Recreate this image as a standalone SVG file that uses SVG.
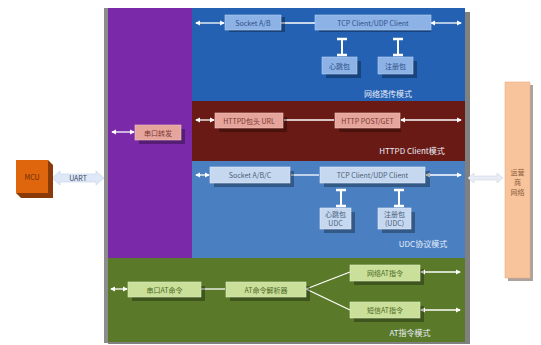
<svg xmlns="http://www.w3.org/2000/svg" width="541" height="345" viewBox="0 0 541 345">
<defs>
<marker id="ah" viewBox="0 0 6 6" refX="5" refY="3" markerWidth="4" markerHeight="4" orient="auto-start-reverse"><path d="M0,0 L6,3 L0,6 z" fill="#ffffff"/></marker>
<marker id="bar" viewBox="0 0 6 6" refX="3" refY="3" markerWidth="5" markerHeight="5" orient="auto"><path d="M3,0 L3,6" stroke="#ffffff" stroke-width="1.5"/></marker>
<filter id="sh" x="-20%" y="-20%" width="150%" height="180%"><feOffset dx="4" dy="4"/><feGaussianBlur stdDeviation="1"/><feComponentTransfer><feFuncA type="linear" slope="0.45"/></feComponentTransfer></filter>
</defs>
<style>
text{font-family:"Noto Sans CJK SC","Liberation Sans",sans-serif;font-size:7px;text-anchor:middle;dominant-baseline:central}
.bb{fill:#8db3e6;stroke:#b6d0f2;stroke-width:0.6}
.rb{fill:#e6a59c;stroke:#f2c6c0;stroke-width:0.6}
.sb{fill:#c6d8ef;stroke:#e0eaf6;stroke-width:0.6}
.gb{fill:#c9df9a;stroke:#e0edc3;stroke-width:0.6}
.shd{fill:#000;opacity:0.3}
.bt{fill:#2d4f86}
.rt{fill:#7a3a34}
.st{fill:#4a5f7a}
.gt{fill:#4f6a25}
.lbl{fill:#e8eef8;font-size:8px}
.ln{stroke:#ffffff;stroke-width:1.3;fill:none}
.la{stroke:#ffffff;stroke-width:1.3;fill:none;marker-start:url(#ah);marker-end:url(#ah)}
.lv{stroke:#ffffff;stroke-width:2;fill:none;marker-start:url(#bar);marker-end:url(#bar)}
</style>
<rect width="541" height="345" fill="#ffffff"/>

<!-- container shadow -->
<rect x="108" y="12" width="362" height="332" fill="#555" opacity="0.75"/>
<rect x="104" y="8" width="4" height="335" fill="#8c8c8c"/>

<g id="section-transparent">
<rect x="192" y="8" width="273" height="93" fill="#2461b3"/>
<text class="lbl" x="388" y="93">网络透传模式</text>
</g>
<g id="section-httpd">
<rect x="192" y="101" width="273" height="60" fill="#6a1a14"/>
<text class="lbl" x="412" y="150">HTTPD Client模式</text>
</g>
<g id="section-udc">
<rect x="192" y="161" width="273" height="97" fill="#4a80c2"/>
<text class="lbl" x="423" y="243">UDC协议模式</text>
</g>
<g id="section-purple">
<rect x="108" y="8" width="84" height="250" fill="#7a2aa8"/>
</g>
<g id="section-at">
<rect x="108" y="258" width="357" height="84" fill="#5a7a2a"/>
<text class="lbl" x="410" y="332">AT指令模式</text>
</g>

<g id="connectors">
<line class="la" x1="196" y1="23" x2="224" y2="23"/>
<line class="ln" x1="281" y1="23" x2="315" y2="23"/>
<line class="la" x1="431" y1="23" x2="461" y2="23"/>
<line class="lv" x1="342" y1="39" x2="342" y2="55"/>
<line class="lv" x1="398" y1="39" x2="398" y2="55"/>
<line class="la" x1="112" y1="132" x2="134" y2="132"/>
<line class="la" x1="196" y1="120" x2="214" y2="120"/>
<line class="ln" x1="284" y1="120" x2="334" y2="120"/>
<line class="la" x1="401" y1="120" x2="461" y2="120"/>
<line class="la" x1="196" y1="175" x2="209" y2="175"/>
<line class="ln" x1="291" y1="175" x2="319" y2="175"/>
<line class="la" x1="426" y1="175" x2="461" y2="175"/>
<line class="lv" x1="341" y1="190" x2="341" y2="206"/>
<line class="lv" x1="399" y1="190" x2="399" y2="206"/>
<line class="la" x1="111" y1="289" x2="127" y2="289"/>
<line class="ln" x1="201" y1="289" x2="225" y2="289"/>
<line class="ln" x1="306" y1="289" x2="350" y2="272"/>
<line class="ln" x1="306" y1="289" x2="350" y2="310"/>
<line class="la" x1="421" y1="272" x2="460" y2="272"/>
<line class="la" x1="421" y1="310" x2="460" y2="310"/>
<path d="M52,178 L60,171 L60,174 L96,174 L96,171 L104,178 L96,185 L96,182 L60,182 L60,185 Z" fill="#dfe8f6" stroke="#c4d2ea" stroke-width="0.6"/>
<path d="M468,178 L474,173 L474,176 L497,176 L497,173 L503,178 L497,183 L497,180 L474,180 L474,183 Z" fill="#e8ecf4" stroke="#cfd6e4" stroke-width="0.6"/>
<text x="78" y="178" fill="#3a4a6a" font-size="6.5">UART</text>
</g>

<g id="n-socket-ab">
<rect class="shd" x="229" y="17" width="56" height="15"/>
<rect class="bb" x="225" y="15" width="56" height="15"/>
<text class="bt" x="253" y="22.5">Socket A/B</text>
</g>
<g id="n-tcp1">
<rect class="shd" x="319" y="17" width="112" height="15"/>
<rect class="bb" x="315" y="15" width="116" height="15"/>
<text class="bt" x="373" y="22.5">TCP Client/UDP Client</text>
</g>
<g id="n-heart1">
<rect class="shd" x="326" y="61" width="35" height="17"/>
<rect class="bb" x="322" y="57" width="35" height="17"/>
<text class="bt" x="339.5" y="65.5">心跳包</text>
</g>
<g id="n-reg1">
<rect class="shd" x="382" y="61" width="35" height="17"/>
<rect class="bb" x="378" y="57" width="35" height="17"/>
<text class="bt" x="395.5" y="65.5">注册包</text>
</g>

<g id="n-uart-forward">
<rect class="shd" x="139" y="129" width="46" height="15"/>
<rect class="rb" x="135" y="125" width="46" height="15"/>
<text class="rt" x="158" y="132.5">串口转发</text>
</g>
<g id="n-httpd-head">
<rect class="shd" x="219" y="117" width="68" height="15"/>
<rect class="rb" x="215" y="113" width="68" height="15"/>
<text class="rt" x="249" y="120.5">HTTPD包头 URL</text>
</g>
<g id="n-http-post">
<rect class="shd" x="339" y="117" width="62" height="15"/>
<rect class="rb" x="335" y="113" width="65" height="15"/>
<text class="rt" x="367.5" y="120.5">HTTP POST/GET</text>
</g>

<g id="n-socket-abc">
<rect class="shd" x="214" y="171" width="80" height="16"/>
<rect class="sb" x="210" y="167" width="80" height="16"/>
<text class="st" x="250" y="175">Socket A/B/C</text>
</g>
<g id="n-tcp2">
<rect class="shd" x="324" y="171" width="106" height="16"/>
<rect class="sb" x="320" y="167" width="105" height="16"/>
<text class="st" x="372.5" y="175">TCP Client/UDP Client</text>
</g>
<g id="n-heart2">
<rect class="shd" x="324" y="212" width="31" height="21"/>
<rect class="sb" x="320" y="208" width="31" height="21"/>
<text class="st" x="335.5" y="214">心跳包</text>
<text class="st" x="335.5" y="223">UDC</text>
</g>
<g id="n-reg2">
<rect class="shd" x="382" y="212" width="33" height="21"/>
<rect class="sb" x="378" y="208" width="33" height="21"/>
<text class="st" x="394.5" y="214">注册包</text>
<text class="st" x="394.5" y="223">(UDC)</text>
</g>

<g id="n-serial-at">
<rect class="shd" x="132" y="286" width="73" height="15"/>
<rect class="gb" x="128" y="282" width="73" height="15"/>
<text class="gt" x="164.5" y="289.5">串口AT命令</text>
</g>
<g id="n-at-parse">
<rect class="shd" x="230" y="286" width="80" height="15"/>
<rect class="gb" x="226" y="282" width="80" height="15"/>
<text class="gt" x="266" y="289.5">AT命令解析器</text>
</g>
<g id="n-net-at">
<rect class="shd" x="354" y="269" width="70" height="16"/>
<rect class="gb" x="350" y="265" width="70" height="16"/>
<text class="gt" x="385" y="273">网络AT指令</text>
</g>
<g id="n-sms-at">
<rect class="shd" x="354" y="306" width="70" height="16"/>
<rect class="gb" x="350" y="302" width="70" height="16"/>
<text class="gt" x="385" y="310">短信AT指令</text>
</g>

<g id="n-mcu">
<path d="M16,160 L48,160 L53,165 L53,198 L21,198 L16,193 Z" fill="#8a3a08"/>
<rect x="16" y="160" width="32" height="33" fill="#e0660e"/>
<text x="32" y="176.5" fill="#6a2a06" font-size="6.5">MCU</text>
</g>

<g id="n-carrier">
<rect x="508" y="85" width="25" height="196" fill="#8a7a70" opacity="0.7"/>
<rect x="505" y="82" width="25" height="196" fill="#f8c49c" stroke="#e8b08a" stroke-width="0.6"/>
<text x="517.5" y="172" fill="#8a5a3a">运营</text>
<text x="517.5" y="182" fill="#8a5a3a">商</text>
<text x="517.5" y="192" fill="#8a5a3a">网络</text>
</g>
</svg>
